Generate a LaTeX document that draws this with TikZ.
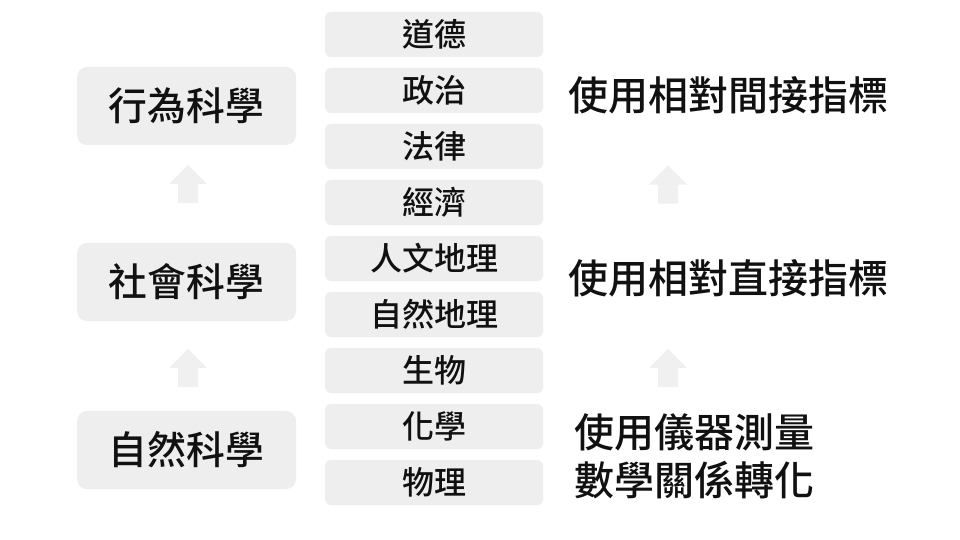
\documentclass[tikz,border=0pt]{standalone}
\usepackage{fontspec}
\setmainfont{Noto Sans CJK TC}[UprightFont=* Medium]
\usetikzlibrary{positioning}
\definecolor{boxgray}{RGB}{238,238,238}
\definecolor{arrowgray}{RGB}{240,240,240}
\definecolor{txt}{RGB}{17,17,17}
\tikzset{
  bigbox/.style={fill=boxgray, rounded corners=10pt, minimum width=219pt, minimum height=78pt, inner sep=0pt, text=txt, font=\fontsize{38.8}{40}\selectfont},
  smallbox/.style={fill=boxgray, rounded corners=6pt, minimum width=218pt, minimum height=45pt, inner sep=0pt, text=txt, font=\fontsize{32}{34}\selectfont},
  sidetext/.style={anchor=west, inner sep=0pt, text=txt, align=left, font=\fontsize{40}{48}\selectfont},
  pics/uparrow/.style={code={
    \fill[arrowgray] (0,-19) -- (19,0) -- (10,0) -- (10,19) -- (-10,19) -- (-10,0) -- (-19,0) -- cycle;
  }}
}
\begin{document}
\begin{tikzpicture}[x=1pt,y=-1pt]
\useasboundingbox (0,0) rectangle (960,540);
\fill[white] (0,0) rectangle (960,540);
% left column
\node[bigbox] (beh) at (186.5,106) {行為科學};
\node[bigbox] (soc) at (186.5,282) {社會科學};
\node[bigbox] (nat) at (186.5,450) {自然科學};
% middle column
\node[smallbox] (m1) at (434,34.5) {道德};
\node[smallbox] (m2) at (434,90.5) {政治};
\node[smallbox] (m3) at (434,146.5) {法律};
\node[smallbox] (m4) at (434,202.5) {經濟};
\node[smallbox] (m5) at (434,258.5) {人文地理};
\node[smallbox] (m6) at (434,314.5) {自然地理};
\node[smallbox] (m7) at (434,370.5) {生物};
\node[smallbox] (m8) at (434,426.5) {化學};
\node[smallbox] (m9) at (434,482.5) {物理};
% right column
\node[sidetext] (r1) at (568,95) {使用相對間接指標};
\node[sidetext] (r2) at (568,278) {使用相對直接指標};
\node[sidetext] (r3) at (574,456) {使用儀器測量\\數學關係轉化};
% arrows
\coordinate (la1) at (188,184);
\coordinate (la2) at (188,368);
\coordinate (ra1) at (668,184.5);
\coordinate (ra2) at (668,368);
\pic at (la1) {uparrow};
\pic at (la2) {uparrow};
\pic at (ra1) {uparrow};
\pic at (ra2) {uparrow};
\end{tikzpicture}
\end{document}
